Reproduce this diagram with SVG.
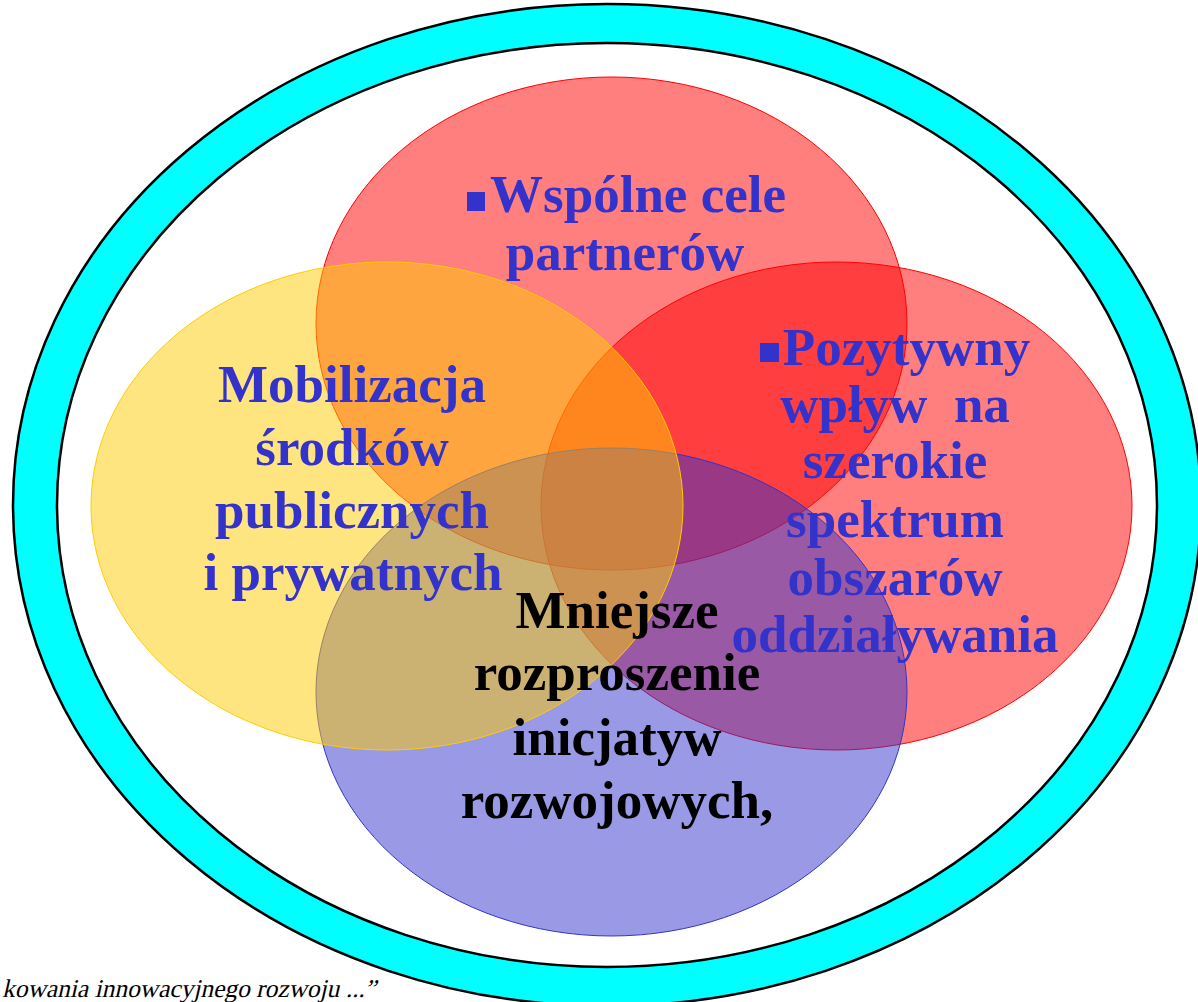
<svg xmlns="http://www.w3.org/2000/svg" width="1198" height="1002" viewBox="0 0 1198 1002">
<style>
.lbl{font-family:"Liberation Serif","Times New Roman",serif;font-weight:bold;font-size:53px;text-anchor:middle;fill:#3333CC}
.blk{fill:#000000}
.note{font-family:"Liberation Serif","Times New Roman",serif;font-weight:normal;font-size:25.5px;fill:#000000}
.set{stroke-width:1;fill-opacity:0.5}
</style>
<rect x="0" y="0" width="1198" height="1002" fill="#FFFFFF"/>
<g id="ring">
<ellipse cx="607" cy="505" rx="594" ry="501" fill="#00FFFF" stroke="#000000" stroke-width="2.5"/>
<ellipse cx="607" cy="505" rx="550" ry="462" fill="#FFFFFF" stroke="#000000" stroke-width="2.5"/>
</g>
<g id="shapes">
<ellipse id="set-top" class="set" cx="611.5" cy="323.5" rx="295.5" ry="246.5" fill="#FF0000" stroke="#FF0000"/>
<ellipse id="set-right" class="set" cx="836.5" cy="506" rx="295.5" ry="244" fill="#FF0000" stroke="#FF0000"/>
<ellipse id="set-bottom" class="set" cx="611.5" cy="692" rx="295.5" ry="244" fill="#3333CC" stroke="#3333CC"/>
<ellipse id="set-left" class="set" cx="387" cy="506" rx="296" ry="244" fill="#FFCC00" stroke="#FFCC00"/>
</g>
<g id="node-top">
<rect x="467" y="192" width="18" height="19" fill="#3333CC"/>
<text class="lbl"><tspan x="638" y="212">Wspólne cele</tspan><tspan x="625" y="270">partnerów</tspan></text>
</g>
<g id="node-left">
<text class="lbl"><tspan x="352" y="402">Mobilizacja</tspan><tspan x="352" y="465">środków</tspan><tspan x="352" y="528">publicznych</tspan><tspan x="353" y="590">i prywatnych</tspan></text>
</g>
<g id="node-right">
<rect x="760" y="343" width="19" height="19" fill="#3333CC"/>
<text class="lbl" xml:space="preserve"><tspan x="906.5" y="365">Pozytywny</tspan><tspan x="895" y="422">wpływ  na</tspan><tspan x="895" y="478">szerokie</tspan><tspan x="895" y="537">spektrum</tspan><tspan x="895" y="595">obszarów</tspan><tspan x="895" y="652">oddziaływania</tspan></text>
</g>
<g id="node-bottom">
<text class="lbl blk"><tspan x="617" y="628">Mniejsze</tspan><tspan x="617" y="690">rozproszenie</tspan><tspan x="617" y="755">inicjatyw</tspan><tspan x="617" y="818">rozwojowych,</tspan></text>
</g>
<g id="connectors"></g>
<g id="footnote">
<text class="note" font-family="Liberation Serif, serif" transform="translate(0,997) skewX(-13)" x="2" y="0" textLength="374" lengthAdjust="spacing">kowania innowacyjnego rozwoju ...”</text>
</g>
</svg>
